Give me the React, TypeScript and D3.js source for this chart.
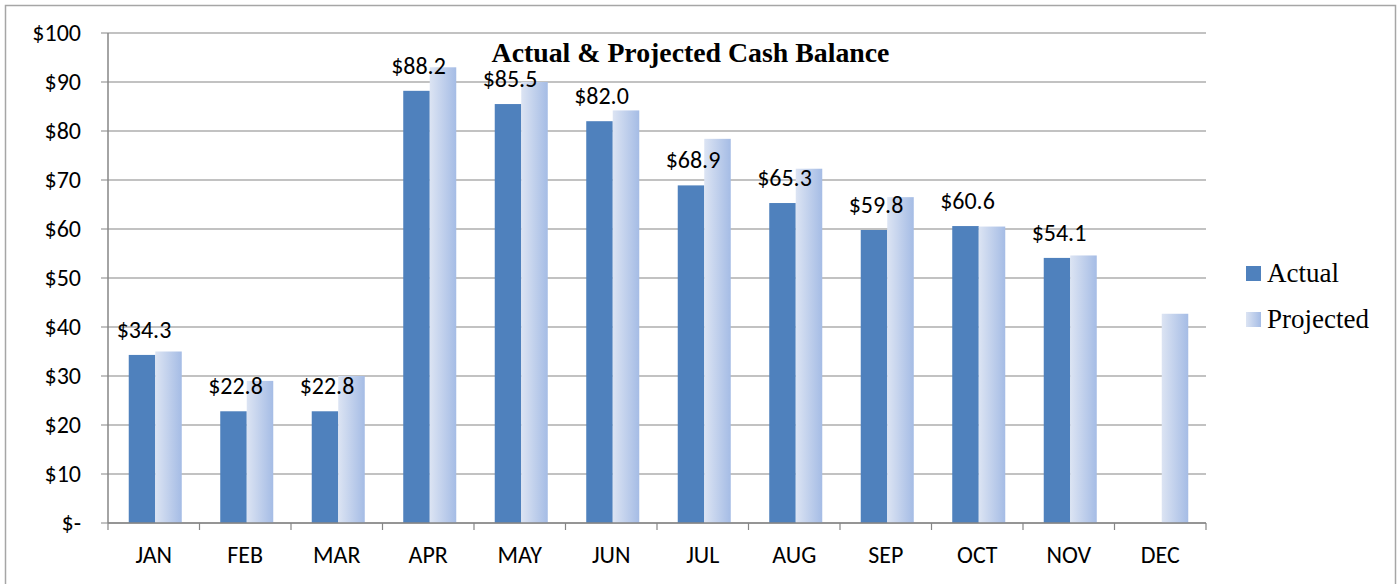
import React from "react";
import * as d3 from "d3";

const months = ["JAN", "FEB", "MAR", "APR", "MAY", "JUN", "JUL", "AUG", "SEP", "OCT", "NOV", "DEC"];
const actual: (number | null)[] = [34.3, 22.8, 22.8, 88.2, 85.5, 82.0, 68.9, 65.3, 59.8, 60.6, 54.1, null];
const projected: number[] = [35.0, 29.0, 30.0, 93.0, 90.0, 84.2, 78.4, 72.3, 66.5, 60.5, 54.6, 42.7];
const yTicks = [0, 10, 20, 30, 40, 50, 60, 70, 80, 90, 100];
const seriesNames = ["Actual", "Projected"];
const title = "Actual & Projected Cash Balance";

const W = 1400;
const H = 584;
const left = 108;
const right = 1206;
const top = 33;
const bottom = 523;

export default function App() {
  const x = d3.scaleBand<string>().domain(months).range([left, right]).paddingInner(0).paddingOuter(0);
  const inner = d3.scaleBand<string>().domain(seriesNames).range([1.5, x.bandwidth() + 1.5]).paddingInner(0).paddingOuter(0.726);
  const y = d3.scaleLinear().domain([0, 100]).range([bottom, top]);
  const fmtTick = (v: number) => (v === 0 ? "$-" : `$${v}`);
  const axisColor = "#868686";
  const labelFont = "Carlito, Calibri, 'Open Sans', sans-serif";
  const serif = "'Liberation Serif', 'Times New Roman', serif";

  return (
    <svg width={W} height={H} style={{ position: "absolute", left: 0, top: 0 }}>
      <defs>
        <linearGradient id="projGrad" x1="0" x2="1" y1="0" y2="0">
          <stop offset="0" stopColor="#dce4f3" />
          <stop offset="1" stopColor="#a5bce5" />
        </linearGradient>
      </defs>
      <rect x={0} y={0} width={W} height={H} fill="#fff" />
      <rect x={5.5} y={5.5} width={1390} height={590} fill="#fff" stroke="#a6a6a6" strokeWidth={1.5} />
      {/* gridlines */}
      {yTicks.map((t) => (
        <g key={t}>
          <line x1={left - 7} x2={right} y1={y(t)} y2={y(t)} stroke={axisColor} strokeWidth={1.2} />
          <text x={81} y={y(t)} dy="0.35em" textAnchor="end" fontFamily={labelFont} fontSize={24} fill="#000">
            {fmtTick(t)}
          </text>
        </g>
      ))}
      {/* bars */}
      {months.map((m, i) => {
        const x0 = x(m)!;
        const a = actual[i];
        const p = projected[i];
        const ax = x0 + inner("Actual")!;
        const px = x0 + inner("Projected")!;
        return (
          <g key={m}>
            {a !== null && (
              <rect x={ax} y={y(a)} width={inner.bandwidth()} height={y(0) - y(a)} fill="#4f81bd" />
            )}
            <rect x={px} y={y(p)} width={inner.bandwidth()} height={y(0) - y(p)} fill="url(#projGrad)" />
          </g>
        );
      })}
      {/* axes */}
      <line x1={left} x2={left} y1={top} y2={bottom} stroke={axisColor} strokeWidth={1.5} />
      <line x1={left} x2={right} y1={bottom} y2={bottom} stroke={axisColor} strokeWidth={1.5} />
      {months.map((m) => (
        <line key={"t" + m} x1={x(m)!} x2={x(m)!} y1={bottom} y2={bottom + 7} stroke={axisColor} strokeWidth={1.2} />
      ))}
      <line x1={right} x2={right} y1={bottom} y2={bottom + 7} stroke={axisColor} strokeWidth={1.2} />
      {months.map((m) => (
        <text key={"l" + m} x={x(m)! + x.bandwidth() / 2} y={563} textAnchor="middle" fontFamily={labelFont} fontSize={24} fill="#000">
          {m}
        </text>
      ))}
      {/* data labels */}
      {months.map((m, i) => {
        const a = actual[i];
        if (a === null) return null;
        const cx = x(m)! + inner("Actual")! + inner.bandwidth() / 2 + 2;
        return (
          <text key={"d" + m} x={cx} y={y(a) - 17} textAnchor="middle" fontFamily={labelFont} fontSize={24} fill="#000">
            {`$${a.toFixed(1)}`}
          </text>
        );
      })}
      {/* title */}
      <text x={690.5} y={62} textAnchor="middle" fontFamily={serif} fontWeight="bold" fontSize={27.8} fill="#000">
        {title}
      </text>
      {/* legend */}
      {seriesNames.map((s, i) => (
        <g key={s} transform={`translate(1246, ${266 + i * 46})`}>
          <rect x={0} y={0} width={15} height={15} fill={i === 0 ? "#4f81bd" : "url(#projGrad)"} />
          <text x={21} y={16} fontFamily={serif} fontSize={27} fill="#000">
            {s}
          </text>
        </g>
      ))}
    </svg>
  );
}
